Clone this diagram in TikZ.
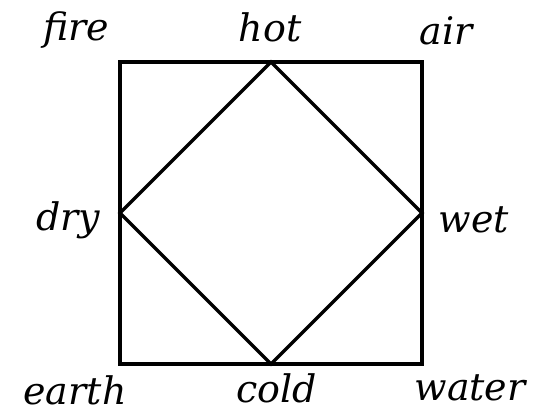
\documentclass[tikz,border=0pt]{standalone}
\usepackage{fontspec}
\setmainfont{DejaVu Serif}
\begin{document}
\begin{tikzpicture}[x=0.025cm,y=-0.025cm,font=\fontsize{27}{31}\selectfont\itshape,
  edge/.style={line width=2.4pt,line join=miter},
  lbl/.style={inner sep=0pt}]
  \useasboundingbox (0,0) rectangle (545,414);
  \coordinate (nw) at (120,62);
  \coordinate (ne) at (422,62);
  \coordinate (se) at (422,364);
  \coordinate (sw) at (120,364);
  \coordinate (n) at (271,62);
  \coordinate (e) at (422,213);
  \coordinate (s) at (271,364);
  \coordinate (w) at (120,213);
  \draw[edge] (nw)--(ne)--(se)--(sw)--cycle;
  \draw[edge] (n)--(e)--(s)--(w)--cycle;
  \node[lbl] (fire)  at (76,30)   {fire};
  \node[lbl] (hot)   at (270,27)  {hot};
  \node[lbl] (air)   at (446,31)  {air};
  \node[lbl] (dry)   at (68,220)  {dry};
  \node[lbl] (wet)   at (474,220) {wet};
  \node[lbl] (earth) at (75,390)  {earth};
  \node[lbl] (cold)  at (277,388) {cold};
  \node[lbl] (water) at (470,388) {water};
\end{tikzpicture}
\end{document}
